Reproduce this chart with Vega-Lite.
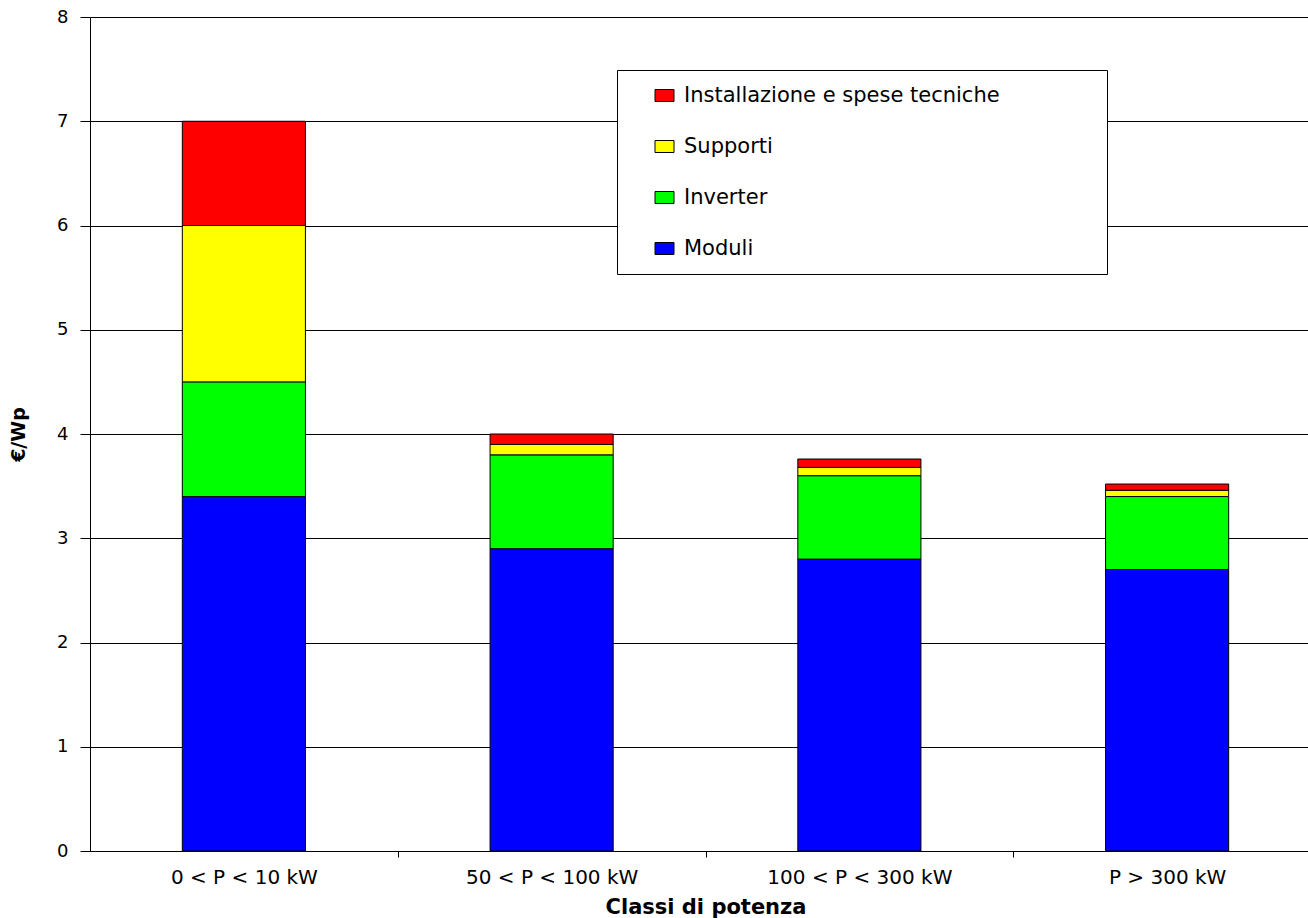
{
  "$schema": "https://vega.github.io/schema/vega-lite/v6.json",
  "autosize": {"type": "none"},
  "padding": {"left": 90, "top": 17, "right": 0, "bottom": 67},
  "width": 1231,
  "height": 834,
  "background": "white",
  "config": {
    "font": "DejaVu Sans",
    "view": {"stroke": null},
    "axis": {"labelFont": "DejaVu Sans", "titleFont": "DejaVu Sans", "labelColor": "black", "titleColor": "black"}
  },
  "data": {
    "values": [
      {"classe": "0 < P < 10 kW", "voce": "Moduli", "rank": 1, "valore": 3.4},
      {"classe": "0 < P < 10 kW", "voce": "Inverter", "rank": 2, "valore": 1.1},
      {"classe": "0 < P < 10 kW", "voce": "Supporti", "rank": 3, "valore": 1.5},
      {"classe": "0 < P < 10 kW", "voce": "Installazione e spese tecniche", "rank": 4, "valore": 1.0},
      {"classe": "50 < P < 100 kW", "voce": "Moduli", "rank": 1, "valore": 2.9},
      {"classe": "50 < P < 100 kW", "voce": "Inverter", "rank": 2, "valore": 0.9},
      {"classe": "50 < P < 100 kW", "voce": "Supporti", "rank": 3, "valore": 0.1},
      {"classe": "50 < P < 100 kW", "voce": "Installazione e spese tecniche", "rank": 4, "valore": 0.1},
      {"classe": "100 < P < 300 kW", "voce": "Moduli", "rank": 1, "valore": 2.8},
      {"classe": "100 < P < 300 kW", "voce": "Inverter", "rank": 2, "valore": 0.8},
      {"classe": "100 < P < 300 kW", "voce": "Supporti", "rank": 3, "valore": 0.08},
      {"classe": "100 < P < 300 kW", "voce": "Installazione e spese tecniche", "rank": 4, "valore": 0.08},
      {"classe": "P > 300 kW", "voce": "Moduli", "rank": 1, "valore": 2.7},
      {"classe": "P > 300 kW", "voce": "Inverter", "rank": 2, "valore": 0.7},
      {"classe": "P > 300 kW", "voce": "Supporti", "rank": 3, "valore": 0.06},
      {"classe": "P > 300 kW", "voce": "Installazione e spese tecniche", "rank": 4, "valore": 0.06}
    ]
  },
  "mark": {"type": "bar", "stroke": "black", "strokeWidth": 1},
  "encoding": {
    "x": {
      "field": "classe",
      "type": "nominal",
      "sort": ["0 < P < 10 kW", "50 < P < 100 kW", "100 < P < 300 kW", "P > 300 kW"],
      "scale": {"paddingInner": 0.6, "paddingOuter": 0.3},
      "axis": {
        "title": "Classi di potenza",
        "titleFontSize": 21,
        "titleFontWeight": "bold",
        "titlePadding": 9,
        "labelAngle": 0,
        "labelFontSize": 20,
        "labelPadding": 10,
        "labelLimit": 300,
        "tickOffset": 154,
        "labelOffset": -154,
        "tickSize": 6,
        "tickColor": "black",
        "domainColor": "black",
        "grid": false
      }
    },
    "y": {
      "field": "valore",
      "type": "quantitative",
      "stack": "zero",
      "scale": {"domain": [0, 8], "nice": false},
      "axis": {
        "title": "€/Wp",
        "titleFontSize": 19,
        "titleFontWeight": "bold",
        "titlePadding": 28,
        "values": [0, 1, 2, 3, 4, 5, 6, 7, 8],
        "labelFontSize": 18,
        "labelPadding": 12,
        "tickSize": 10,
        "tickColor": "black",
        "domainColor": "black",
        "grid": true,
        "gridColor": "black",
        "gridOpacity": 1,
        "gridWidth": 1
      }
    },
    "color": {
      "field": "voce",
      "type": "nominal",
      "scale": {
        "domain": ["Installazione e spese tecniche", "Supporti", "Inverter", "Moduli"],
        "range": ["#FF0000", "#FFFF00", "#00FF00", "#0000FF"]
      },
      "legend": {
        "title": null,
        "orient": "none",
        "legendX": 527,
        "legendY": 53,
        "fillColor": "white",
        "strokeColor": "black",
        "padding": 15,
        "symbolOffset": 22,
        "symbolType": "M-1,-0.63H1V0.63H-1Z",
        "symbolSize": 361,
        "symbolStrokeColor": "black",
        "symbolStrokeWidth": 1,
        "labelFont": "DejaVu Sans",
        "labelFontSize": 21,
        "labelColor": "black",
        "labelOffset": 9,
        "labelLimit": 600,
        "labelExpr": "datum.label + '\u2800\u2800\u2800\u2800\u2800\u2800'",
        "rowPadding": 29
      }
    },
    "order": {"field": "rank", "type": "quantitative"}
  }
}
